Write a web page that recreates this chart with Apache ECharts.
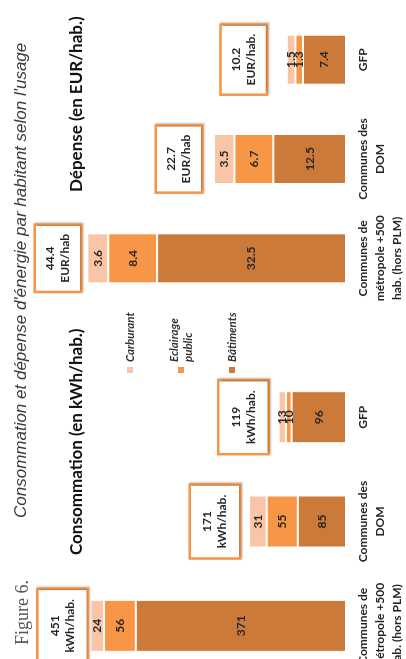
<!DOCTYPE html>
<html>
<head>
<meta charset="utf-8">
<script src="https://cdn.jsdelivr.net/npm/echarts@6/dist/echarts.min.js"></script>
<style>
  html, body { margin: 0; padding: 0; background: #fff; }
  #wrap { position: relative; width: 406px; height: 659px; overflow: hidden; background: #fff; }
  #chart { position: absolute; left: 0; top: 0; width: 700px; height: 406px;
           transform-origin: 0 0; transform: translate(0px, 700px) rotate(-90deg); }
</style>
</head>
<body>
<div id="wrap"><div id="chart"></div></div>
<script>
// ---- data ----
const categories = ['Communes de\nmétropole +500\nhab. (hors PLM)', 'Communes des\nDOM', 'GFP'];
const seriesNames = ['Carburant', 'Eclairage public', 'Bâtiments'];

const consCarburant = [24, 31, 13];
const consEclairage = [56, 55, 10];
const consBatiments = [371, 85, 96];
const consTotals = [451, 171, 119];
const consUnits = ['kWh/hab.', 'kWh/hab.', 'kWh/hab.'];

const depCarburant = [3.6, 3.5, 1.5];
const depEclairage = [8.4, 6.7, 1.3];
const depBatiments = [32.5, 12.5, 7.4];
const depTotals = [44.4, 22.7, 10.2];
const depUnits = ['EUR/hab', 'EUR/hab', 'EUR/hab.'];

const titleText = "Consommation et dépense d'énergie par habitant selon l'usage";
const figureText = 'Figure 6.';
const consTitle = 'Consommation (en kWh/hab.)';
const depTitle = 'Dépense (en EUR/hab.)';

// ---- styles (not data) ----
const colors = { 'Carburant': '#FAC4A6', 'Eclairage public': '#F79646', 'Bâtiments': '#CB7A39' };
const consBoxGaps = [4, 10, 11];   // gap in px between bar top and total box
const depBoxGaps = [8, 13, 21];
const FONT = 'Lato';
const textDark = '#262626';

function segSeries(name, data, idx, stackName, bw) {
  return {
    type: 'bar', name: name, data: data, stack: stackName,
    xAxisIndex: idx, yAxisIndex: idx, barWidth: bw, barGap: '-100%',
    itemStyle: { color: colors[name], borderColor: '#fff', borderWidth: 1 },
    label: { show: true, position: 'inside', color: textDark, fontFamily: FONT,
             fontWeight: 'bold', fontSize: 12, textBorderWidth: 0 },
    emphasis: { disabled: true }, silent: true
  };
}
function totalSeries(totals, units, gaps, idx, bw, pad) {
  return {
    type: 'bar', name: 'total',
    data: totals.map((v, i) => ({ value: v, label: { distance: gaps[i] } })),
    xAxisIndex: idx, yAxisIndex: idx,
    barWidth: bw, barGap: '-100%', z: 5, silent: true,
    itemStyle: { color: 'rgba(0,0,0,0)' },
    label: {
      show: true, position: 'top',
      formatter: p => p.value + '\n' + units[p.dataIndex],
      backgroundColor: '#fff', borderColor: '#F79646', borderWidth: 2.5,
      padding: pad, lineHeight: 15, color: textDark,
      fontFamily: FONT, fontWeight: 'bold', fontSize: 12, align: 'center',
      shadowColor: 'rgba(0,0,0,0.25)', shadowBlur: 2, shadowOffsetX: 1, shadowOffsetY: 1
    }
  };
}
function catAxis(idx) {
  return {
    type: 'category', gridIndex: idx, data: categories,
    axisLine: { show: false }, axisTick: { show: false },
    axisLabel: { interval: 0, margin: 9, color: textDark, fontFamily: FONT,
                 fontWeight: 'bold', fontSize: 12, lineHeight: 17, verticalAlign: 'top' }
  };
}
function valAxis(idx, max) {
  return { type: 'value', gridIndex: idx, min: 0, max: max, show: false,
           splitLine: { show: false } };
}

const chart = echarts.init(document.getElementById('chart'), null, { renderer: 'canvas' });
chart.setOption({
  animation: false,
  backgroundColor: '#fff',
  title: [
    { text: figureText, left: 50, top: 9,
      textStyle: { fontFamily: 'Liberation Serif', fontWeight: 'normal', fontSize: 18, color: '#555' } },
    { text: titleText, left: 177, top: 8,
      textStyle: { fontFamily: 'Liberation Sans', fontStyle: 'italic', fontWeight: 'normal', fontSize: 17, color: '#3a3a3a' } },
    { text: consTitle, left: 140, top: 63,
      textStyle: { fontFamily: FONT, fontWeight: 'bold', fontSize: 17, color: '#111' } },
    { text: depTitle, left: 503, top: 63,
      textStyle: { fontFamily: FONT, fontWeight: 'bold', fontSize: 17, color: '#111' } }
  ],
  legend: {
    orient: 'vertical', left: 322, top: 118, itemWidth: 6, itemHeight: 6, itemGap: 30,
    icon: 'rect', data: seriesNames, selectedMode: false,
    itemStyle: { borderWidth: 0 },
    formatter: n => n === 'Eclairage public' ? 'Eclairage\npublic' : n,
    textStyle: { fontFamily: FONT, fontStyle: 'italic', fontWeight: 'bold', fontSize: 11.5,
                 lineHeight: 14, color: '#333' }
  },
  grid: [
    { left: 22, width: 313, top: 6, bottom: 57 },
    { left: 392, width: 298, top: 6, bottom: 57 }
  ],
  xAxis: [catAxis(0), catAxis(1)],
  yAxis: [valAxis(0, 600), valAxis(1, 58.5)],
  series: [
    segSeries('Bâtiments', consBatiments, 0, 'cons', 52),
    segSeries('Eclairage public', consEclairage, 0, 'cons', 52),
    segSeries('Carburant', consCarburant, 0, 'cons', 52),
    totalSeries(consTotals, consUnits, consBoxGaps, 0, 52, [9, 9]),
    segSeries('Bâtiments', depBatiments, 1, 'dep', 50),
    segSeries('Eclairage public', depEclairage, 1, 'dep', 50),
    segSeries('Carburant', depCarburant, 1, 'dep', 50),
    totalSeries(depTotals, depUnits, depBoxGaps, 1, 50, [7, 8])
  ]
});
</script>
</body>
</html>
